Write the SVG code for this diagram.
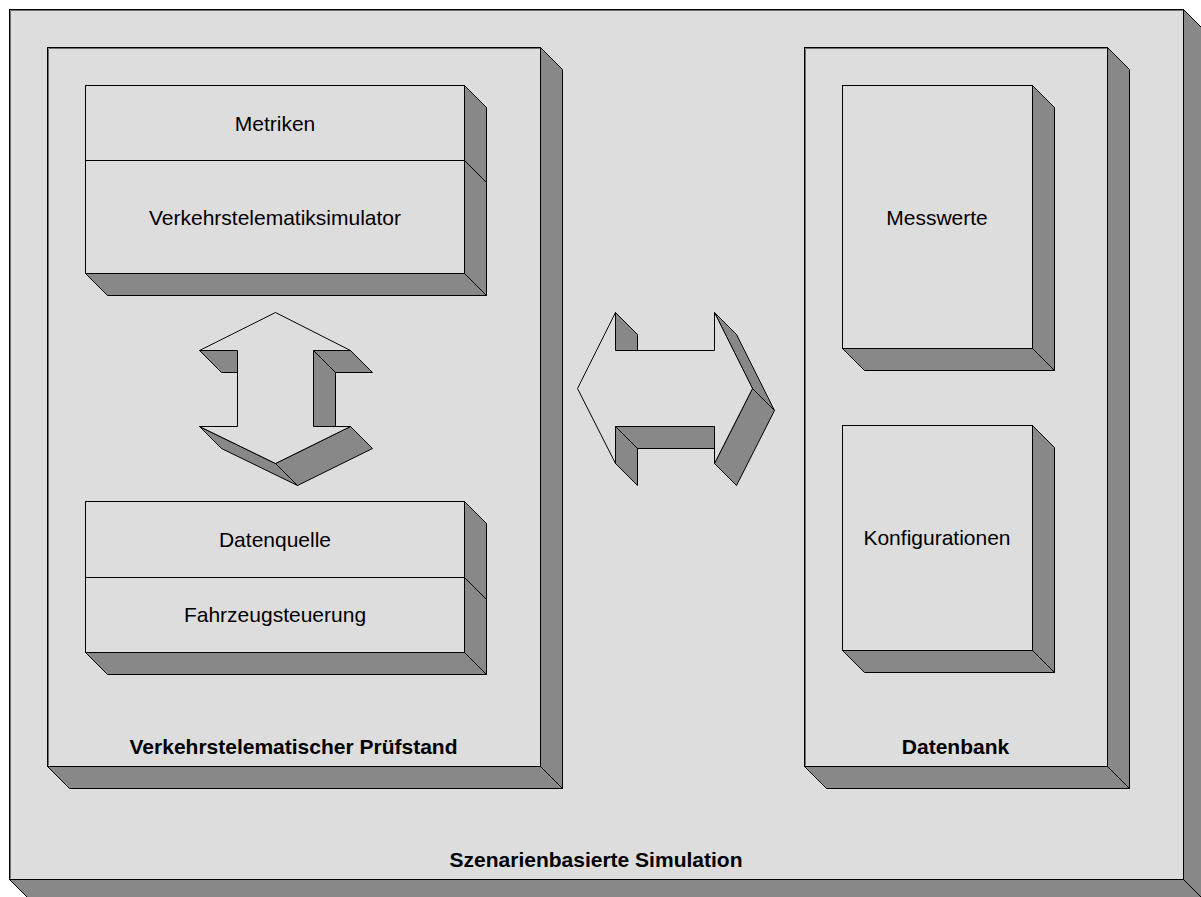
<svg xmlns="http://www.w3.org/2000/svg" width="1201" height="897" viewBox="0 0 1201 897">
  <style>
    .face { fill: #dddddd; stroke: #000; stroke-width: 1; }
    .shade { fill: #888888; stroke: #000; stroke-width: 1; stroke-linejoin: miter; }
    .hl { fill: none; stroke: #6e6e6e; stroke-width: 1; }
    .div { stroke: #000; stroke-width: 1; }
    .lbl { font-family: "Liberation Sans", Arial, sans-serif; font-size: 21px; fill: #000; text-anchor: middle; }
    .title { font-family: "Liberation Sans", Arial, sans-serif; font-size: 21px; font-weight: bold; fill: #000; text-anchor: middle; }
  </style>
  <rect x="0" y="0" width="1201" height="897" fill="#ffffff"/>

  <!-- outer container -->
  <g id="szenarienbasierte-simulation">
    <polygon class="shade" points="1183.5,9.5 1205.5,31.5 1205.5,901.5 1183.5,879.5"/>
    <polygon class="shade" points="9.5,879.5 1183.5,879.5 1205.5,901.5 31.5,901.5"/>
    <rect class="face" x="9.5" y="9.5" width="1174" height="870"/>
    <polyline class="hl" points="10.5,878.5 10.5,10.5 1182.5,10.5"/>
    <text class="title" x="596" y="866.5">Szenarienbasierte Simulation</text>
  </g>

  <!-- test bench panel -->
  <g id="pruefstand">
    <polygon class="shade" points="540.5,47.5 562.5,69.5 562.5,788.5 540.5,766.5"/>
    <polygon class="shade" points="47.5,766.5 540.5,766.5 562.5,788.5 69.5,788.5"/>
    <rect class="face" x="47.5" y="47.5" width="493" height="719"/>
    <polyline class="hl" points="48.5,765.5 48.5,48.5 539.5,48.5"/>
    <text class="title" x="293.5" y="753.5">Verkehrstelematischer Prüfstand</text>
  </g>

  <!-- database panel -->
  <g id="datenbank">
    <polygon class="shade" points="1107.5,47.5 1129.5,69.5 1129.5,788.5 1107.5,766.5"/>
    <polygon class="shade" points="804.5,766.5 1107.5,766.5 1129.5,788.5 826.5,788.5"/>
    <rect class="face" x="804.5" y="47.5" width="303" height="719"/>
    <polyline class="hl" points="805.5,765.5 805.5,48.5 1106.5,48.5"/>
    <text class="title" x="955.5" y="753.5">Datenbank</text>
  </g>

  <!-- simulator stack -->
  <g id="simulator">
    <polygon class="shade" points="464.5,85.5 486.5,107.5 486.5,295.5 464.5,273.5"/>
    <polygon class="shade" points="85.5,273.5 464.5,273.5 486.5,295.5 107.5,295.5"/>
    <rect class="face" x="85.5" y="85.5" width="379" height="188"/>
    <line class="div" x1="85.5" y1="160.5" x2="464.5" y2="160.5"/>
    <line class="div" x1="464.5" y1="160.5" x2="486.5" y2="182.5"/>
    <text class="lbl" x="275" y="130.5">Metriken</text>
    <text class="lbl" x="275" y="224.5">Verkehrstelematiksimulator</text>
  </g>

  <!-- vehicle side stack -->
  <g id="fahrzeug">
    <polygon class="shade" points="464.5,501.5 486.5,523.5 486.5,674.5 464.5,652.5"/>
    <polygon class="shade" points="85.5,652.5 464.5,652.5 486.5,674.5 107.5,674.5"/>
    <rect class="face" x="85.5" y="501.5" width="379" height="151"/>
    <line class="div" x1="85.5" y1="577.5" x2="464.5" y2="577.5"/>
    <line class="div" x1="464.5" y1="577.5" x2="486.5" y2="599.5"/>
    <text class="lbl" x="275" y="546.5">Datenquelle</text>
    <text class="lbl" x="275" y="622">Fahrzeugsteuerung</text>
  </g>

  <!-- measurement store -->
  <g id="messwerte">
    <polygon class="shade" points="1032.5,85.5 1054.5,107.5 1054.5,370.5 1032.5,348.5"/>
    <polygon class="shade" points="842.5,348.5 1032.5,348.5 1054.5,370.5 864.5,370.5"/>
    <rect class="face" x="842.5" y="85.5" width="190" height="263"/>
    <text class="lbl" x="937" y="224.5">Messwerte</text>
  </g>

  <!-- configuration store -->
  <g id="konfigurationen">
    <polygon class="shade" points="1032.5,425.5 1054.5,447.5 1054.5,672.5 1032.5,650.5"/>
    <polygon class="shade" points="842.5,650.5 1032.5,650.5 1054.5,672.5 864.5,672.5"/>
    <rect class="face" x="842.5" y="425.5" width="190" height="225"/>
    <text class="lbl" x="937" y="545">Konfigurationen</text>
  </g>

  <!-- connectors: block arrows -->
  <g id="connectors">
    <g id="arrow-vertical">
      <polygon class="shade" points="199.5,350.5 237.5,350.5 237.5,372.5 221.5,372.5"/>
      <polygon class="shade" points="313.5,350.5 350.5,350.5 372.5,372.5 335.5,372.5 335.5,426.5 313.5,426.5"/>
      <polygon class="shade" points="199.5,426.5 275.5,463.5 297.5,485.5 221.5,448.5"/>
      <polygon class="shade" points="275.5,463.5 350.5,426.5 372.5,448.5 297.5,485.5"/>
      <polygon class="face" points="275.5,312.5 350.5,350.5 313.5,350.5 313.5,426.5 350.5,426.5 275.5,463.5 199.5,426.5 237.5,426.5 237.5,350.5 199.5,350.5"/>
      <line class="div" x1="313.5" y1="350.5" x2="335.5" y2="372.5"/>
    </g>
    <g id="arrow-horizontal">
      <polygon class="shade" points="615.5,312.5 637.5,334.5 637.5,350.5 615.5,350.5"/>
      <polygon class="shade" points="714.5,312.5 736.5,334.5 774.5,410.5 752.5,388.5"/>
      <polygon class="shade" points="752.5,388.5 774.5,410.5 736.5,485.5 714.5,463.5"/>
      <polygon class="shade" points="615.5,426.5 714.5,426.5 714.5,448.5 637.5,448.5 637.5,485.5 615.5,463.5"/>
      <polygon class="face" points="577.5,388.5 615.5,312.5 615.5,350.5 714.5,350.5 714.5,312.5 752.5,388.5 714.5,463.5 714.5,426.5 615.5,426.5 615.5,463.5"/>
      <line class="div" x1="615.5" y1="426.5" x2="637.5" y2="448.5"/>
    </g>
  </g>
</svg>
